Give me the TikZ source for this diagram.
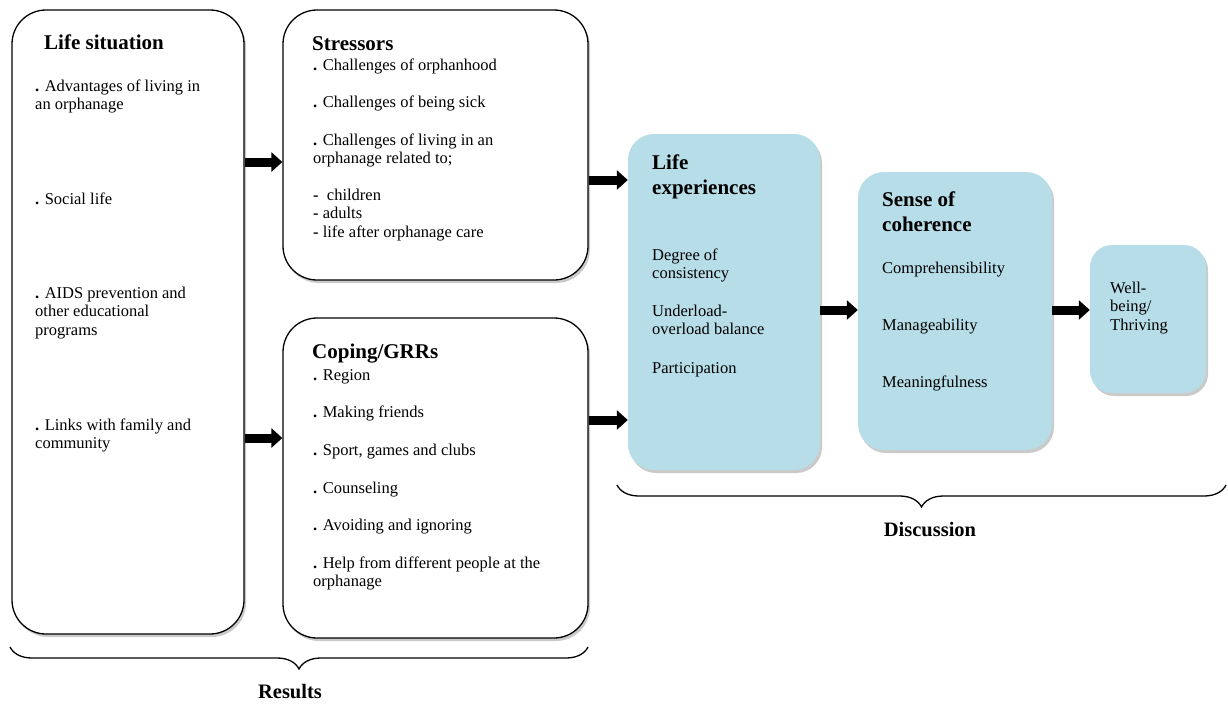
\documentclass[tikz,border=0pt]{standalone}
\usepackage{fontspec}
\setmainfont{Liberation Serif}
\usetikzlibrary{arrows.meta,shadows,decorations.pathreplacing}
\definecolor{lightblue}{RGB}{183,221,232}
\tikzset{
  shade/.style={drop shadow={shadow xshift=2pt,shadow yshift=-3pt,opacity=.35,fill=black!60}},
  whitebox/.style={draw=black,line width=1.3pt,fill=white,rounded corners=34pt,shade},
  bluebox/.style={fill=lightblue,rounded corners=26pt,shade},
  fatarrow/.style={line width=9pt,-{Triangle[length=11pt,width=19pt]}},
  txt/.style={anchor=base west,inner sep=0pt,align=left,font=\fontsize{16.5}{18.5}\selectfont},
  head/.style={txt,font=\fontsize{21}{25}\selectfont\bfseries},
  brace/.style={decorate,line width=1.3pt,decoration={brace,mirror,amplitude=22pt}},
  bracelabel/.style={font=\fontsize{20.5}{22}\selectfont\bfseries}
}
\newcommand{\pt}{\textbf{.}}
\begin{document}
\begin{tikzpicture}[x=1pt,y=-1pt]
\useasboundingbox (0,0) rectangle (1228,704);

% boxes
\node[whitebox,minimum width=232pt,minimum height=624pt] (ls) at (128,322){};
\node[whitebox,minimum width=305pt,minimum height=270pt] (str) at (435.5,145){};
\node[whitebox,minimum width=305pt,minimum height=320pt] (cop) at (435.5,478){};
\node[bluebox,minimum width=192pt,minimum height=336pt] (lexp) at (724,302){};
\node[bluebox,minimum width=194pt,minimum height=278pt] (soc) at (955,311){};
\node[bluebox,rounded corners=22pt,minimum width=116pt,minimum height=148pt] (wb) at (1148,319){};

% life situation (base = last line)
\node[head] (ls-h) at (44,49) {Life situation};
\node[txt] (ls-1) at (35,109.5) {\pt{} Advantages of living in\\an orphanage};
\node[txt] (ls-2) at (35,204) {\pt{} Social life};
\node[txt] (ls-3) at (35,335) {\pt{} AIDS prevention and\\other educational\\programs};
\node[txt] (ls-4) at (35,448.5) {\pt{} Links with family and\\community};

% stressors
\node[head] (str-h) at (312,50) {Stressors};
\node[txt] (str-1) at (313,70) {\pt{} Challenges of orphanhood};
\node[txt] (str-2) at (313,107) {\pt{} Challenges of being sick};
\node[txt] (str-3) at (313,163.5) {\pt{} Challenges of living in an\\orphanage related to;};
\node[txt] (str-4) at (313,237) {\textbf{-}\ \ children\\\textbf{-} adults\\\textbf{-} life after orphanage care};

% coping
\node[head] (cop-h) at (312,358) {Coping/GRRs};
\node[txt] (cop-1) at (313,380) {\pt{} Region};
\node[txt] (cop-2) at (313,417) {\pt{} Making friends};
\node[txt] (cop-3) at (313,455) {\pt{} Sport, games and clubs};
\node[txt] (cop-4) at (313,493) {\pt{} Counseling};
\node[txt] (cop-5) at (313,530) {\pt{} Avoiding and ignoring};
\node[txt] (cop-6) at (313,586.5) {\pt{} Help from different people at the\\orphanage};

% life experiences
\node[head] (lexp-h) at (652,194) {Life\\experiences};
\node[txt] (lexp-1) at (652,278.5) {Degree of\\consistency};
\node[txt] (lexp-2) at (652,334.5) {Underload-\\overload balance};
\node[txt] (lexp-3) at (652,373) {Participation};

% sense of coherence
\node[head] (soc-h) at (882,231) {Sense of\\coherence};
\node[txt] (soc-1) at (882,273) {Comprehensibility};
\node[txt] (soc-2) at (882,330) {Manageability};
\node[txt] (soc-3) at (882,387) {Meaningfulness};

\node[txt] (wb-t) at (1110,330) {Well-\\being/\\Thriving};

% arrows
\coordinate (r1) at (0,162);
\coordinate (r2) at (0,438);
\coordinate (r3) at (0,180);
\coordinate (r4) at (0,420);
\coordinate (r5) at (0,310);
\draw[fatarrow] (ls.east |- r1) -- (str.west |- r1);
\draw[fatarrow] (ls.east |- r2) -- (cop.west |- r2);
\draw[fatarrow] (str.east |- r3) -- (lexp.west |- r3);
\draw[fatarrow] (cop.east |- r4) -- (lexp.west |- r4);
\draw[fatarrow] (lexp.east |- r5) -- (soc.west |- r5);
\draw[fatarrow] (soc.east |- r5) -- (wb.west |- r5);

% braces
\coordinate (b1) at (10,647);
\coordinate (b2) at (588,647);
\coordinate (b3) at (617,485);
\coordinate (b4) at (1226,485);
\draw[brace] (b1) -- (b2);
\draw[brace] (b3) -- (b4);
\node[bracelabel] (res) at (290,692) {Results};
\node[bracelabel] (dis) at (930,530) {Discussion};
\end{tikzpicture}
\end{document}
